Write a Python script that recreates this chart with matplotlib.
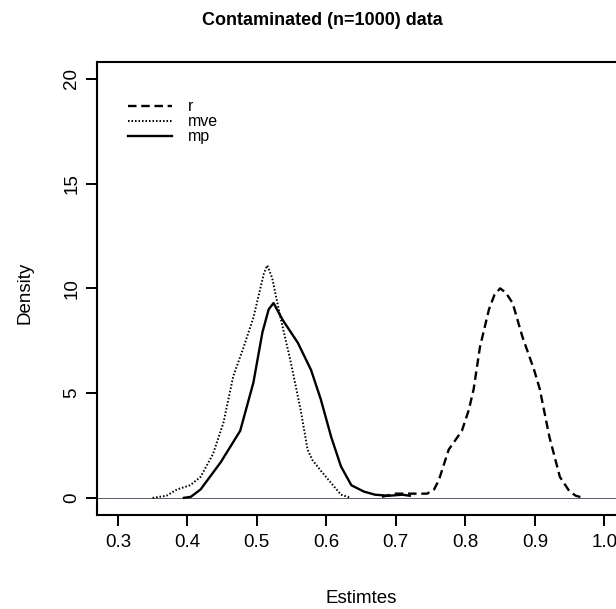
import matplotlib
matplotlib.use("Agg")
import matplotlib.pyplot as plt

plt.rcParams['font.family'] = ['Liberation Sans', 'DejaVu Sans']

# density curves
r_x = [0.68, 0.70, 0.72, 0.745, 0.755, 0.762, 0.776, 0.795, 0.805, 0.812, 0.821,
       0.834, 0.842, 0.850, 0.858, 0.868, 0.882, 0.899, 0.907, 0.921, 0.936,
       0.950, 0.959, 0.97]
r_y = [0.05, 0.2, 0.2, 0.2, 0.4, 0.86, 2.3, 3.2, 4.2, 5.2, 7.2,
       9.0, 9.7, 10.0, 9.8, 9.3, 7.7, 6.1, 5.2, 2.9, 1.0,
       0.3, 0.1, 0.0]

mve_x = [0.35, 0.37, 0.385, 0.404, 0.419, 0.437, 0.452, 0.466, 0.481, 0.495,
         0.505, 0.510, 0.515, 0.522, 0.534, 0.548, 0.563, 0.573, 0.580, 0.592,
         0.607, 0.621, 0.635]
mve_y = [0.0, 0.1, 0.4, 0.6, 1.0, 2.1, 3.6, 5.8, 7.2, 8.6,
         10.0, 10.7, 11.1, 10.5, 8.6, 6.6, 4.2, 2.3, 1.8, 1.3,
         0.7, 0.15, 0.0]

mp_x = [0.395, 0.405, 0.419, 0.448, 0.476, 0.495, 0.508, 0.517, 0.524, 0.537,
        0.559, 0.578, 0.592, 0.607, 0.621, 0.636, 0.654, 0.670, 0.690, 0.709,
        0.72]
mp_y = [0.0, 0.05, 0.4, 1.7, 3.2, 5.5, 7.9, 9.0, 9.3, 8.5,
        7.4, 6.1, 4.7, 2.9, 1.5, 0.6, 0.3, 0.15, 0.1, 0.15,
        0.1]

x_ticks = [0.3, 0.4, 0.5, 0.6, 0.7, 0.8, 0.9, 1.0]
y_ticks = [0, 5, 10, 15, 20]

fig = plt.figure(figsize=(6.16, 6.09), dpi=100)
# right edge of the box is cut off in the original scan
ax = fig.add_axes([0.1575, 0.155, 0.88, 0.743])

ax.axhline(0, color='#5a5a6a', lw=0.7, zorder=1)
ax.plot(r_x, r_y, color='black', lw=1.7, linestyle=(0, (3.6, 2)), label='r')
ax.plot(mve_x, mve_y, color='black', lw=1.4, linestyle=(0, (0.8, 1.0)), label='mve')
ax.plot(mp_x, mp_y, color='black', lw=1.7, label='mp')

ax.set_xlim(0.27, 1.05)
ax.set_ylim(-0.8, 20.8)
ax.set_xticks(x_ticks)
ax.set_xticklabels(['0.3', '0.4', '0.5', '0.6', '0.7', '0.8', '0.9', '1.0'])
ax.set_yticks(y_ticks)
ax.set_yticklabels([str(v) for v in y_ticks], rotation=90, va='center')
ax.tick_params(direction='out', length=8, width=1.4, labelsize=13.5)
ax.tick_params(axis='x', pad=6)
ax.tick_params(axis='y', pad=4)
for s in ax.spines.values():
    s.set_linewidth(1.5)

ax.set_xlabel('Estimtes', fontsize=13.5)
ax.xaxis.set_label_coords(0.487, -0.166)
ax.set_ylabel('Density', fontsize=13.5)
ax.yaxis.set_label_coords(-0.117, 0.49)
fig.text(0.523, 0.967, 'Contaminated (n=1000) data', fontsize=13, fontweight='bold',
         ha='center', va='center')

ax.legend(loc='upper left', bbox_to_anchor=(0.03, 0.95), frameon=False,
          fontsize=11.5, handlelength=2.8, labelspacing=0.0, handletextpad=1.0)

fig.savefig('out.png', dpi=100)
